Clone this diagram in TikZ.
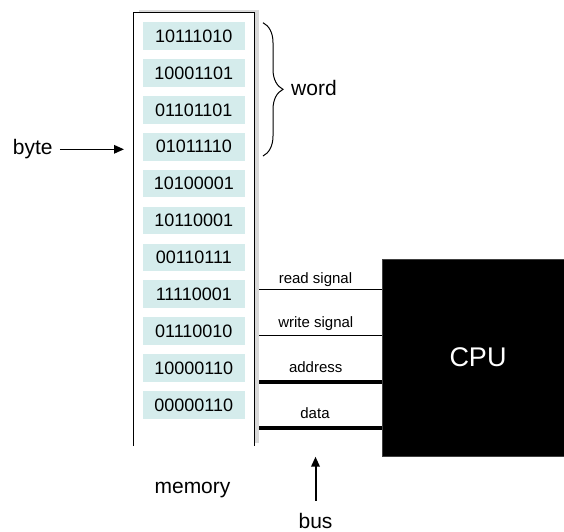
\documentclass[tikz,border=0pt]{standalone}
\usepackage{fontspec}
\setmainfont{Liberation Sans}
\usetikzlibrary{decorations.pathreplacing,arrows.meta}
\definecolor{cellfill}{RGB}{213,236,236}
\definecolor{shadowgray}{RGB}{217,217,217}
\begin{document}
\begin{tikzpicture}[x=1pt,y=-1pt,
 cell/.style={fill=cellfill, minimum width=102.3pt, minimum height=27.7pt, inner sep=0pt, font=\fontsize{18}{18}\selectfont},
 lbl/.style={font=\fontsize{21}{21}\selectfont, inner sep=0pt},
 wlbl/.style={font=\fontsize{15}{15}\selectfont, inner sep=0pt, anchor=base},
 thinwire/.style={line width=1pt},
 thickwire/.style={line width=4pt},
 arr/.style={-{Triangle[length=10pt,width=8.5pt]}}]
\useasboundingbox (0,0) rectangle (564,531);
% memory column
\node[fill=shadowgray, minimum width=120pt, minimum height=433pt, inner sep=0pt] (shadow) at (199,226.5) {};
\node[fill=white, minimum width=120pt, minimum height=433.3pt, inner sep=0pt] (mem) at (194,229.35) {};
\draw[line width=1.3pt] (mem.south west) -- (mem.north west) -- (mem.north east) -- (mem.south east);
\foreach \t [count=\i] in {10111010,10001101,01101101,01011110,10100001,10110001,00110111,11110001,01110010,10000110,00000110}
  \node[cell] (c\i) at (193.8,{36+36.9*(\i-1)}) {\t};
% byte
\node[lbl, anchor=base] (byte) at (32.8,154.5) {byte};
\coordinate (bytetip) at (124,149.3);
\draw[arr, line width=1.5pt] ([xshift=7pt]byte.east |- bytetip) -- (bytetip);
% word brace
\coordinate (bracetop) at (263,22.7);
\coordinate (bracebot) at (263,156);
\draw[line width=1pt, decorate, decoration={brace, amplitude=20pt}] (bracetop) -- (bracebot);
\node[lbl, anchor=base west] (word) at (291,95) {word};
% CPU
\node[fill=black, draw=darkgray, minimum width=182pt, minimum height=197pt, inner sep=0pt] (cpu) at (473,357.5) {};
\node[text=white, font=\fontsize{27}{27}\selectfont, inner sep=0pt] (cpulbl) at ([xshift=5pt]cpu.center) {CPU};
% wires
\draw[thinwire] (shadow.east |- 0,289.3) -- (cpu.west |- 0,289.3);
\draw[thinwire] (shadow.east |- 0,335.7) -- (cpu.west |- 0,335.7);
\draw[thickwire] (shadow.east |- 0,381.7) -- (cpu.west |- 0,381.7);
\draw[thickwire] (shadow.east |- 0,427.7) -- (cpu.west |- 0,427.7);
\node[wlbl] (rd) at (315.5,283.5) {read signal};
\node[wlbl] (wr) at (315.8,327) {write signal};
\node[wlbl] (ad) at (315.7,372.5) {address};
\node[wlbl] (da) at (315,418.5) {data};
% bottom labels
\node[lbl, anchor=base] (memlbl) at (192.5,493) {memory};
\node[lbl, anchor=base] (bus) at (315.5,528) {bus};
\coordinate (bustip) at (315.5,456.7);
\draw[arr, line width=2pt] ([yshift=12pt]bus.north) -- (bustip);
\end{tikzpicture}
\end{document}
